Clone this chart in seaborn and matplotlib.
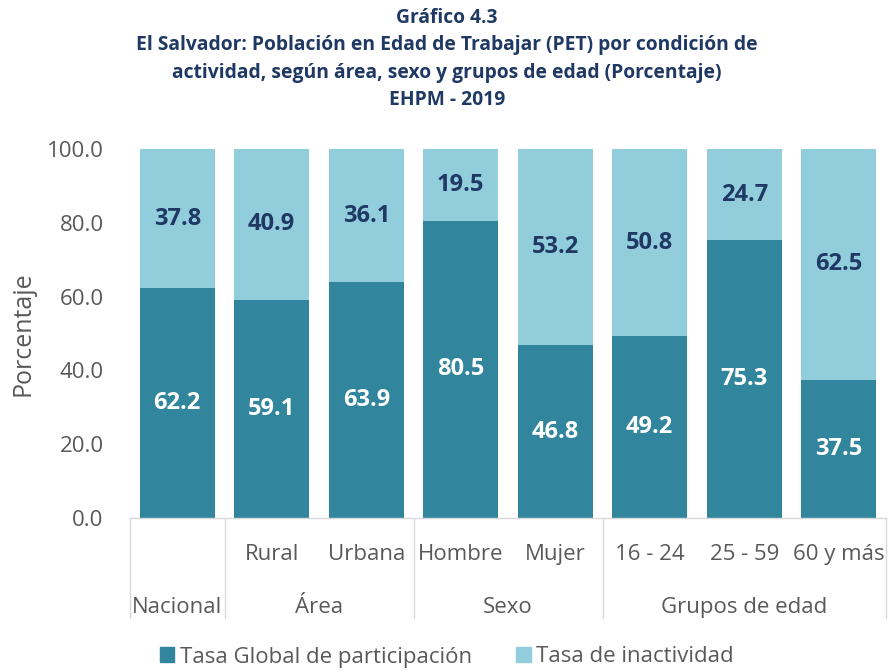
import matplotlib
matplotlib.use("Agg")
import matplotlib.pyplot as plt
import seaborn as sns
import pandas as pd
from matplotlib.lines import Line2D
from matplotlib.patches import Patch
import matplotlib.transforms as mtransforms

categories = ["Nacional", "Rural", "Urbana", "Hombre", "Mujer", "16 - 24", "25 - 59", "60 y más"]
sub_labels = ["", "Rural", "Urbana", "Hombre", "Mujer", "16 - 24", "25 - 59", "60 y más"]
groups = [("Nacional", 0, 0), ("Área", 1, 2), ("Sexo", 3, 4), ("Grupos de edad", 5, 7)]
participacion = [62.2, 59.1, 63.9, 80.5, 46.8, 49.2, 75.3, 37.5]
inactividad = [37.8, 40.9, 36.1, 19.5, 53.2, 50.8, 24.7, 62.5]
yticks = [0, 20, 40, 60, 80, 100]

C_DARK = "#31859C"
C_LIGHT = "#92CDDC"
NAVY = "#1F3864"
GRAY = "#595959"

sns.set_theme(style="white")
plt.rcParams['font.family'] = ['Open Sans', 'DejaVu Sans']

df = pd.DataFrame({"cat": categories, "part": participacion, "inac": inactividad})
df["total"] = df["part"] + df["inac"]

fig = plt.figure(figsize=(8.94, 6.72), dpi=100)
ax = fig.add_axes([130/894, 154/672, 756/894, 369/672])

sns.barplot(data=df, x="cat", y="total", color=C_LIGHT, width=0.79, saturation=1,
            linewidth=0, ax=ax, order=categories)
sns.barplot(data=df, x="cat", y="part", color=C_DARK, width=0.79, saturation=1,
            linewidth=0, ax=ax, order=categories)

for i, (p, q) in enumerate(zip(participacion, inactividad)):
    ax.text(i, p / 2, f"{p:.1f}", ha="center", va="center", color="white",
            fontsize=17, fontweight="bold")
    ax.text(i, p + q / 2, f"{q:.1f}", ha="center", va="center", color=NAVY,
            fontsize=17, fontweight="bold")

ax.set_ylim(0, 100)
ax.set_xlim(-0.5, len(categories) - 0.5)
ax.set_yticks(yticks)
ax.set_yticklabels([f"{v:.1f}" for v in yticks], color=GRAY, fontsize=16)
ax.tick_params(axis="y", length=0, pad=19)
ax.set_xticks([])
ax.set_xlabel("")
ax.set_ylabel("Porcentaje", color=GRAY, fontsize=18, labelpad=8)
for s in ["top", "right", "left"]:
    ax.spines[s].set_visible(False)
ax.spines["bottom"].set_color("#D9D9D9")
ax.spines["bottom"].set_linewidth(1)

trans = mtransforms.blended_transform_factory(ax.transData, ax.transAxes)
for i, lab in enumerate(sub_labels):
    if lab:
        ax.text(i, -0.1, lab, transform=trans, ha="center", va="center",
                color=GRAY, fontsize=16)
for name, a, b in groups:
    ax.text((a + b) / 2, -0.242, name, transform=trans, ha="center", va="center",
            color=GRAY, fontsize=16)
for x in [-0.5, 0.5, 2.5, 4.5, 7.5]:
    ax.add_line(Line2D([x, x], [0, -0.27], transform=trans, color="#D9D9D9",
                       lw=1, clip_on=False))

handles = [Patch(color=C_DARK, label="Tasa Global de participación"),
           Patch(color=C_LIGHT, label="Tasa de inactividad")]
fig.legend(handles=handles, loc="center", bbox_to_anchor=(0.5, 1 - 657/672), ncol=2,
           frameon=False, fontsize=16, handlelength=0.65, handleheight=0.65,
           handletextpad=0.25, columnspacing=2.0, labelcolor=GRAY)

title = ("Gráfico 4.3\nEl Salvador: Población en Edad de Trabajar (PET) por condición de\n"
         "actividad, según área, sexo y grupos de edad (Porcentaje)\nEHPM - 2019")
fig.text(0.5, 1 - 59/672, title, ha="center", va="center", color=NAVY,
         fontsize=13.9, fontweight="bold", linespacing=1.5)

fig.savefig("out.png", dpi=100)
